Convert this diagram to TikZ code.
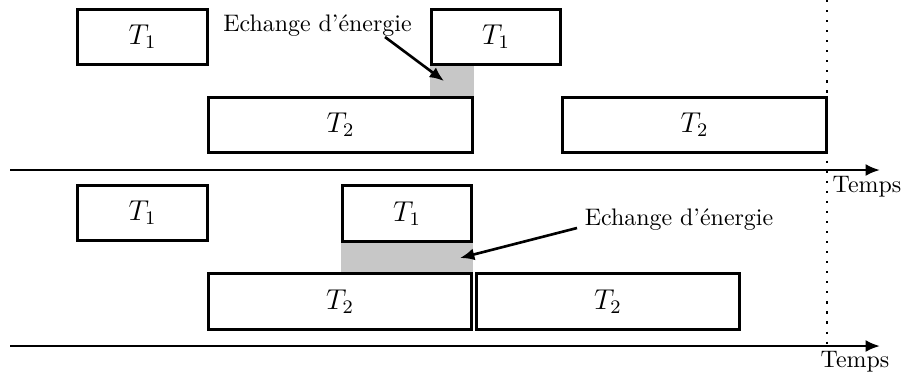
\documentclass[tikz,border=0pt]{standalone}
\usetikzlibrary{arrows.meta, positioning, backgrounds}

\begin{document}
\begin{tikzpicture}[x=0.0147cm, y=-0.0147cm,
        tache/.style = {draw, line width=1.2pt, minimum height=0.82cm, inner sep=0pt, font=\large},
        courte/.style = {tache, minimum width=1.9cm},
        longue/.style = {tache, minimum width=3.87cm},
        fleche/.style = {line width=1.1pt, -{Latex[length=6pt, width=5pt]}},
        echange/.style = {fill=black!22} ]
      \useasboundingbox (0,0) rectangle (901,378);
      % premier cas
      \node[courte] (t1a) at (142.5,37) {$T_1$};
      \node[courte] (t1b) at (496,37) {$T_1$};
      \node[longue] (t2a) at (340.5,125) {$T_2$};
      \node[longue] (t2b) at (694.5,125) {$T_2$};
      \node[anchor=base] (ech1) at (317.5,31) {Echange d'énergie};
      \coordinate (e1) at (385,37);
      \coordinate (g1) at (444,81);
      \draw[fleche] (e1) -- (g1);
      \coordinate (o1) at (10,170);
      \coordinate (f1) at (880,170);
      \draw[fleche] (o1) -- (f1);
      \node[anchor=base] (temps1) at (867,192) {Temps};
      % second cas
      \node[courte] (t1c) at (142.5,213) {$T_1$};
      \node[courte] (t1d) at (407,213.5) {$T_1$};
      \node[longue] (t2c) at (340,301.5) {$T_2$};
      \node[longue, right=0.7pt of t2c] (t2d) {$T_2$};
      \node[anchor=base] (ech2) at (679,225) {Echange d'énergie};
      \coordinate (e2) at (577,228);
      \coordinate (g2) at (460,258);
      \draw[fleche] (e2) -- (g2);
      \coordinate (o2) at (10,346);
      \coordinate (f2) at (880,346);
      \draw[fleche] (o2) -- (f2);
      \node[anchor=base] (temps2) at (855,367) {Temps};
      % echanges
      \begin{scope}[on background layer]
        \fill[echange] (t1b.south west) rectangle (t2a.north east);
        \fill[echange] (t1d.south west) rectangle (t2c.north east);
      \end{scope}
      \coordinate (d0) at (827,0);
      \coordinate (d1) at (827,346);
      \draw[line width=0.9pt, dash pattern=on 0.9pt off 3.3pt] (d0) -- (d1);
    \end{tikzpicture}
\end{document}
